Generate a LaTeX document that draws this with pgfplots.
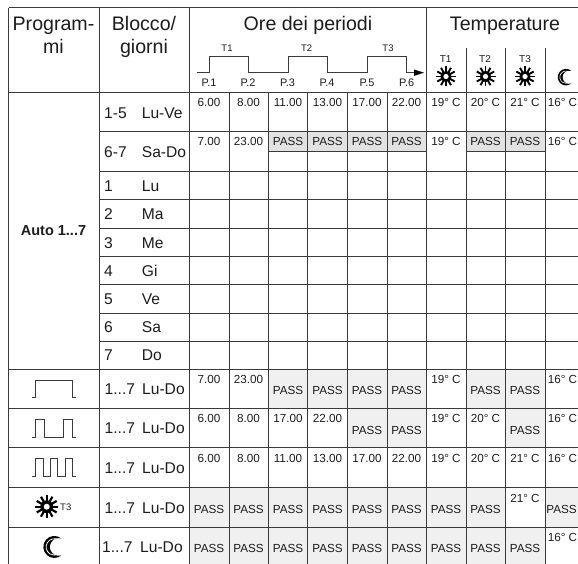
\documentclass[border=0pt]{standalone}
\usepackage{pgfplots}
\pgfplotsset{compat=1.18}
\usepackage{fontspec}
\setmainfont{Liberation Sans}
\definecolor{ln}{HTML}{3A3A3A}
\definecolor{tx}{HTML}{1C1C1C}
\definecolor{pa}{HTML}{E2E2E2}
\definecolor{pb}{HTML}{F0F0F0}
\newcommand\fs[1]{\fontsize{#1}{#1}\selectfont}
\newcommand\T[4]{\node[anchor=base,inner sep=0pt,text=tx] at (axis cs:#1,#2) {\fs{#3}#4};}
\newcommand\TL[4]{\node[anchor=base west,inner sep=0pt,text=tx] at (axis cs:#1,#2) {\fs{#3}#4};}
\newcommand\R[4]{\addplot[fill=#4,draw=none,forget plot] coordinates {(#1,#2) (#1+39.5,#2) (#1+39.5,#3) (#1,#3)} -- cycle;}
\newcommand\HL[3]{\addplot[ln,line width=1pt,forget plot] coordinates {(#1,#3) (#2,#3)};}
\newcommand\VL[3]{\addplot[ln,line width=1pt,forget plot] coordinates {(#1,#2) (#1,#3)};}
\newcommand\PAS[2]{\T{#1}{#2}{11.7}{PASS}}
\newsavebox\sunbox
\newsavebox\sunboxb
\newsavebox\moonbox
\newsavebox\moonboxb
\newcommand\mksun[1]{\tikz[scale=#1]{%
  \foreach \a in {0,30,...,330}{\draw[black,line width=#1*1.9pt] (\a:3.6pt) -- (\a:10pt);}%
  \fill[black] (0,0) circle (5.6pt);\fill[white] (0,0) circle (2.6pt);}}
\newcommand\mkmoon[1]{\tikz[scale=#1]{%
  \fill[black] (50:11pt) arc[start angle=50,end angle=310,radius=11pt] arc[start angle=288,end angle=72,radius=8.85pt] -- cycle;
  \draw[white,line width=#1*0.8pt] (58:8.2pt) arc[start angle=58,end angle=302,radius=8.2pt];}}
\sbox\sunbox{\mksun{1}}
\sbox\sunboxb{\mksun{1.15}}
\sbox\moonbox{\mkmoon{0.75}}
\sbox\moonboxb{\mkmoon{1}}
\begin{document}
\begin{tikzpicture}
\begin{axis}[scale only axis,width=578pt,height=564pt,xmin=0,xmax=578,ymin=0,ymax=564,y dir=reverse,hide axis,clip mode=individual,clip=false]
% fills
\addplot[fill=pa,draw=none,forget plot] coordinates {(268,132) (426,132) (426,152) (268,152)} -- cycle;
\addplot[fill=pa,draw=none,forget plot] coordinates {(466,132) (545,132) (545,152) (466,152)} -- cycle;
\R{268}{369}{408.5}{pb}\R{307.5}{369}{408.5}{pb}\R{347}{369}{408.5}{pb}\R{387}{369}{408.5}{pb}\R{466}{369}{408.5}{pb}\R{505.5}{369}{408.5}{pb}
\R{347}{408.5}{447.5}{pb}\R{387}{408.5}{447.5}{pb}\R{505.5}{408.5}{447.5}{pb}
\addplot[fill=pb,draw=none,forget plot] coordinates {(189,487) (505,487) (505,527) (189,527)} -- cycle;
\addplot[fill=pb,draw=none,forget plot] coordinates {(545,487) (578,487) (578,527) (545,527)} -- cycle;
\addplot[fill=pb,draw=none,forget plot] coordinates {(189,527) (545,527) (545,564) (189,564)} -- cycle;
% grid
\HL{8.5}{578}{8}\HL{8.5}{578}{92.3}
\HL{99}{578}{132}\HL{99}{578}{172}\HL{99}{578}{200}\HL{99}{578}{228}\HL{99}{578}{256}\HL{99}{578}{284}\HL{99}{578}{313}\HL{99}{578}{341}
\HL{8.5}{578}{369}\HL{8.5}{578}{408.5}\HL{8.5}{578}{447.5}\HL{8.5}{578}{487}\HL{8.5}{578}{527}
\HL{268}{426}{152}\HL{466}{545}{152}
\VL{8.5}{8}{564}\VL{99}{8}{564}\VL{189}{8}{564}\VL{426}{8}{564}
\VL{229}{92}{564}\VL{268}{92}{564}\VL{307.5}{92}{564}\VL{347}{92}{564}\VL{387}{92}{564}
\VL{466}{48}{564}\VL{505.5}{48}{564}\VL{545}{48}{564}
% period waveform
\addplot[ln,line width=0.9pt,forget plot] coordinates {(197,72.7) (209,72.7) (209,56) (248.7,56) (248.7,72.7) (288,72.7) (288,56) (327.7,56) (327.7,72.7) (367,72.7) (367,56) (406.7,56) (406.7,72.7) (416,72.7)};
\addplot[fill=black,draw=none,forget plot] coordinates {(414,69.5) (424,72.7) (414,75.9)} -- cycle;
% program waveforms
\addplot[ln,line width=0.9pt,forget plot] coordinates {(32.3,397.3) (35.7,397.3) (35.7,380.7) (72.3,380.7) (72.3,397.3) (75.7,397.3)};
\addplot[ln,line width=0.9pt,forget plot] coordinates {(32.3,437) (35.7,437) (35.7,419) (44.3,419) (44.3,437) (63.3,437) (63.3,419) (72.3,419) (72.3,437) (75.7,437)};
\addplot[ln,line width=0.9pt,forget plot] coordinates {(32.3,476.7) (35.7,476.7) (35.7,458.7) (43.3,458.7) (43.3,476.7) (50,476.7) (50,458.7) (57.3,458.7) (57.3,476.7) (65,476.7) (65,458.7) (72.3,458.7) (72.3,476.7) (75.7,476.7)};
% headers
\T{53.5}{31}{19.6}{Program-}\T{53.5}{54}{19.6}{mi}
\T{144}{31}{19.6}{Blocco/}\T{144}{54}{19.6}{giorni}
\T{308}{31}{19.6}{Ore dei periodi}\T{505}{31}{19.6}{Temperature}
\T{227}{52}{9.5}{T1}\T{306.7}{52}{9.5}{T2}\T{388}{52}{9.5}{T3}
\T{209}{86.7}{10.9}{P.1}\T{248}{86.7}{10.9}{P.2}\T{287.5}{86.7}{10.9}{P.3}\T{327}{86.7}{10.9}{P.4}\T{367}{86.7}{10.9}{P.5}\T{406.7}{86.7}{10.9}{P.6}
\T{445.7}{62.7}{10}{T1}\T{485}{62.7}{10}{T2}\T{525}{62.7}{10}{T3}
\node[inner sep=0pt] at (axis cs:446,76.5) {\usebox\sunbox};
\node[inner sep=0pt] at (axis cs:485.5,76.5) {\usebox\sunbox};
\node[inner sep=0pt] at (axis cs:525,76.5) {\usebox\sunbox};
\node[inner sep=0pt] at (axis cs:564,77) {\usebox\moonbox};
\node[inner sep=0pt] at (axis cs:46.7,506.7) {\usebox\sunboxb};
\TL{60}{510}{9.5}{T3}
\node[inner sep=0pt] at (axis cs:51.7,546.7) {\usebox\moonboxb};
\node[anchor=base,inner sep=0pt,text=tx] at (axis cs:53.5,236) {\fs{14.5}\bfseries Auto 1...7};
% block column
\TL{104}{118.7}{15.6}{1-5}\TL{141.7}{118.7}{15.6}{Lu-Ve}
\TL{104}{157.7}{15.6}{6-7}\TL{141.7}{157.7}{15.6}{Sa-Do}
\TL{104}{191.7}{15.6}{1}\TL{141.7}{191.7}{15.6}{Lu}
\TL{104}{219}{15.6}{2}\TL{141.7}{219}{15.6}{Ma}
\TL{104}{248}{15.6}{3}\TL{141.7}{248}{15.6}{Me}
\TL{104}{276}{15.6}{4}\TL{141.7}{276}{15.6}{Gi}
\TL{104}{304}{15.6}{5}\TL{141.7}{304}{15.6}{Ve}
\TL{104}{332}{15.6}{6}\TL{141.7}{332}{15.6}{Sa}
\TL{104}{360}{15.6}{7}\TL{141.7}{360}{15.6}{Do}
\TL{104.5}{394}{15.6}{1...7}\TL{142}{394}{15.6}{Lu-Do}
\TL{104.5}{433}{15.6}{1...7}\TL{142}{433}{15.6}{Lu-Do}
\TL{104.5}{473}{15.6}{1...7}\TL{142}{473}{15.6}{Lu-Do}
\TL{104.5}{513}{15.6}{1...7}\TL{142}{513}{15.6}{Lu-Do}
\TL{102}{552}{15.6}{1...7}\TL{140}{552}{15.6}{Lu-Do}
% row 1-5
\T{209}{107}{11.7}{6.00}\T{248.5}{107}{11.7}{8.00}\T{288}{107}{11.7}{11.00}\T{327.5}{107}{11.7}{13.00}\T{367}{107}{11.7}{17.00}\T{406.5}{107}{11.7}{22.00}
\T{446}{107}{11.7}{19° C}\T{485.5}{107}{11.7}{20° C}\T{525}{107}{11.7}{21° C}\T{562.5}{107}{11.7}{16° C}
% row 6-7
\T{209}{146}{11.7}{7.00}\T{248.5}{146}{11.7}{23.00}\PAS{288}{146}\PAS{327.5}{146}\PAS{367}{146}\PAS{406.5}{146}
\T{446}{146}{11.7}{19° C}\PAS{485.5}{146}\PAS{525}{146}\T{562.5}{146}{11.7}{16° C}
% program rows
\T{209}{383}{11.7}{7.00}\T{248.5}{383}{11.7}{23.00}\PAS{288}{394}\PAS{327.5}{394}\PAS{367}{394}\PAS{406.5}{394}
\T{446}{383}{11.7}{19° C}\PAS{485.5}{394}\PAS{525}{394}\T{562.5}{383}{11.7}{16° C}
\T{209}{422}{11.7}{6.00}\T{248.5}{422}{11.7}{8.00}\T{288}{422}{11.7}{17.00}\T{327.5}{422}{11.7}{22.00}\PAS{367}{434}\PAS{406.5}{434}
\T{446}{422}{11.7}{19° C}\T{485.5}{422}{11.7}{20° C}\PAS{525}{434}\T{562.5}{422}{11.7}{16° C}
\T{209}{462}{11.7}{6.00}\T{248.5}{462}{11.7}{8.00}\T{288}{462}{11.7}{11.00}\T{327.5}{462}{11.7}{13.00}\T{367}{462}{11.7}{17.00}\T{406.5}{462}{11.7}{22.00}
\T{446}{462}{11.7}{19° C}\T{485.5}{462}{11.7}{20° C}\T{525}{462}{11.7}{21° C}\T{562.5}{462}{11.7}{16° C}
\PAS{209}{513}\PAS{248.5}{513}\PAS{288}{513}\PAS{327.5}{513}\PAS{367}{513}\PAS{406.5}{513}\PAS{446}{513}\PAS{485.5}{513}\T{525}{502}{11.7}{21° C}\PAS{561.5}{513}
\PAS{209}{552}\PAS{248.5}{552}\PAS{288}{552}\PAS{327.5}{552}\PAS{367}{552}\PAS{406.5}{552}\PAS{446}{552}\PAS{485.5}{552}\PAS{525}{552}\T{562.5}{541}{11.7}{16° C}
\end{axis}
\pgfresetboundingbox
\path[use as bounding box] (0,0) rectangle (578pt,564pt);
\end{tikzpicture}
\end{document}
